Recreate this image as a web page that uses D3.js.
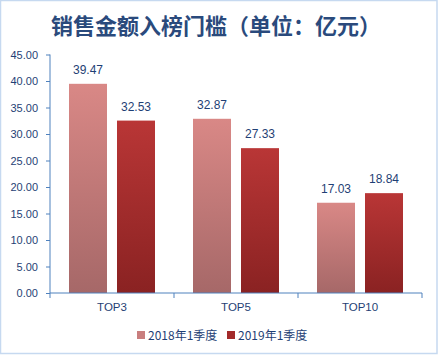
<!DOCTYPE html>
<html><head><meta charset="utf-8">
<script src="https://cdn.jsdelivr.net/npm/d3@7"></script>
<style>
html,body{margin:0;padding:0;background:#fff;}
svg{display:block;}
</style></head>
<body>
<script>
const categories = ["TOP3", "TOP5", "TOP10"];
const seriesNames = ["2018年1季度", "2019年1季度"];
const values2018 = [39.47, 32.87, 17.03];
const values2019 = [32.53, 27.33, 18.84];
const yTicks = [0, 5, 10, 15, 20, 25, 30, 35, 40, 45];
const chartTitle = "销售金额入榜门槛（单位：亿元）";

(function () {
const W = 438, H = 355;
const svg = d3.select("body").append("svg").attr("width", W).attr("height", H);

const defs = svg.append("defs");
const grads = [
  {id: "g2018", top: "#d98886", bottom: "#a66868"},
  {id: "g2019", top: "#b93636", bottom: "#8a2222"}
];
grads.forEach(g => {
  const lg = defs.append("linearGradient").attr("id", g.id)
    .attr("x1", 0).attr("y1", 0).attr("x2", 0).attr("y2", 1);
  lg.append("stop").attr("offset", "0%").attr("stop-color", g.top);
  lg.append("stop").attr("offset", "100%").attr("stop-color", g.bottom);
});
const fills = ["url(#g2018)", "url(#g2019)"];
const legendFills = ["#c97e7e", "#a32a2a"];

// border
svg.append("rect").attr("x", 0.5).attr("y", 0.5).attr("width", W - 1.5).attr("height", H - 2)
  .attr("fill", "none").attr("stroke", "#c6d9f0").attr("stroke-width", 1.5);

const pLeft = 50, pRight = 422, pTop = 54.5, pBottom = 293;
const x0 = d3.scaleBand().domain(categories).range([pLeft, pRight]).paddingInner(0).paddingOuter(0);
const x1 = d3.scaleBand().domain(seriesNames).range([19, x0.bandwidth() - 19]).paddingInner(10 / 48);
const y = d3.scaleLinear().domain([0, 45]).range([pBottom, pTop]);

const textColor = "#1f3f75";
const font = "'Liberation Sans', Arial, sans-serif";

// title
svg.append("text").attr("x", 216).attr("y", 33.5).attr("text-anchor", "middle")
  .attr("font-family", "'Noto Sans CJK SC', sans-serif").attr("font-weight", "bold")
  .attr("font-size", 22).attr("fill", "#2a4a7c").text(chartTitle);

// y axis
const yAxis = d3.axisLeft(y).tickValues(yTicks).tickFormat(d3.format(".2f")).tickSize(4).tickPadding(8);
const gy = svg.append("g").attr("transform", `translate(${pLeft},0)`).call(yAxis);
gy.select(".domain").attr("stroke", "#4f81bd").attr("d", `M0,${pTop}V${pBottom}`);
gy.selectAll(".tick line").attr("stroke", "#4f81bd");
gy.selectAll(".tick text").attr("fill", textColor).attr("font-family", font).attr("font-size", 11);

// bars
const data = categories.map((c, i) => ({cat: c, vals: [values2018[i], values2019[i]]}));
const groups = svg.selectAll("g.cat").data(data).enter().append("g")
  .attr("class", "cat").attr("transform", d => `translate(${x0(d.cat)},0)`);
groups.selectAll("rect").data(d => d.vals.map((v, j) => ({v, j})))
  .enter().append("rect")
  .attr("x", d => x1(seriesNames[d.j]))
  .attr("y", d => y(d.v))
  .attr("width", x1.bandwidth())
  .attr("height", d => y(0) - y(d.v))
  .attr("fill", d => fills[d.j]);
groups.selectAll("text.lbl").data(d => d.vals.map((v, j) => ({v, j})))
  .enter().append("text").attr("class", "lbl")
  .attr("x", d => x1(seriesNames[d.j]) + x1.bandwidth() / 2)
  .attr("y", d => y(d.v) - 10)
  .attr("text-anchor", "middle").attr("font-family", font).attr("font-size", 12)
  .attr("fill", textColor).text(d => d.v.toFixed(2));

// x axis
const xAxis = d3.axisBottom(x0).tickSize(0).tickPadding(10);
const gx = svg.append("g").attr("transform", `translate(0,${pBottom})`).call(xAxis);
gx.select(".domain").attr("stroke", "#4f81bd").attr("d", `M${pLeft},0H${pRight}`);
gx.selectAll(".tick text").attr("fill", textColor).attr("font-family", font).attr("font-size", 11.5);
const boundaries = categories.map(c => x0(c)).concat([pRight]);
gx.selectAll("line.bt").data(boundaries).enter().append("line").attr("class", "bt")
  .attr("x1", d => d).attr("x2", d => d).attr("y1", 0).attr("y2", 5)
  .attr("stroke", "#4f81bd");

// legend
const legendItems = [{x: 137, name: seriesNames[0], c: legendFills[0]}, {x: 227, name: seriesNames[1], c: legendFills[1]}];
const lg = svg.selectAll("g.leg").data(legendItems).enter().append("g").attr("class", "leg");
lg.append("rect").attr("x", d => d.x).attr("y", 331).attr("width", 8).attr("height", 8).attr("fill", d => d.c);
lg.append("text").attr("x", d => d.x + 11).attr("y", 339.5)
  .attr("font-family", "'Noto Sans CJK SC', sans-serif").attr("font-size", 12)
  .attr("fill", textColor).text(d => d.name);
})();
</script>
</body></html>
